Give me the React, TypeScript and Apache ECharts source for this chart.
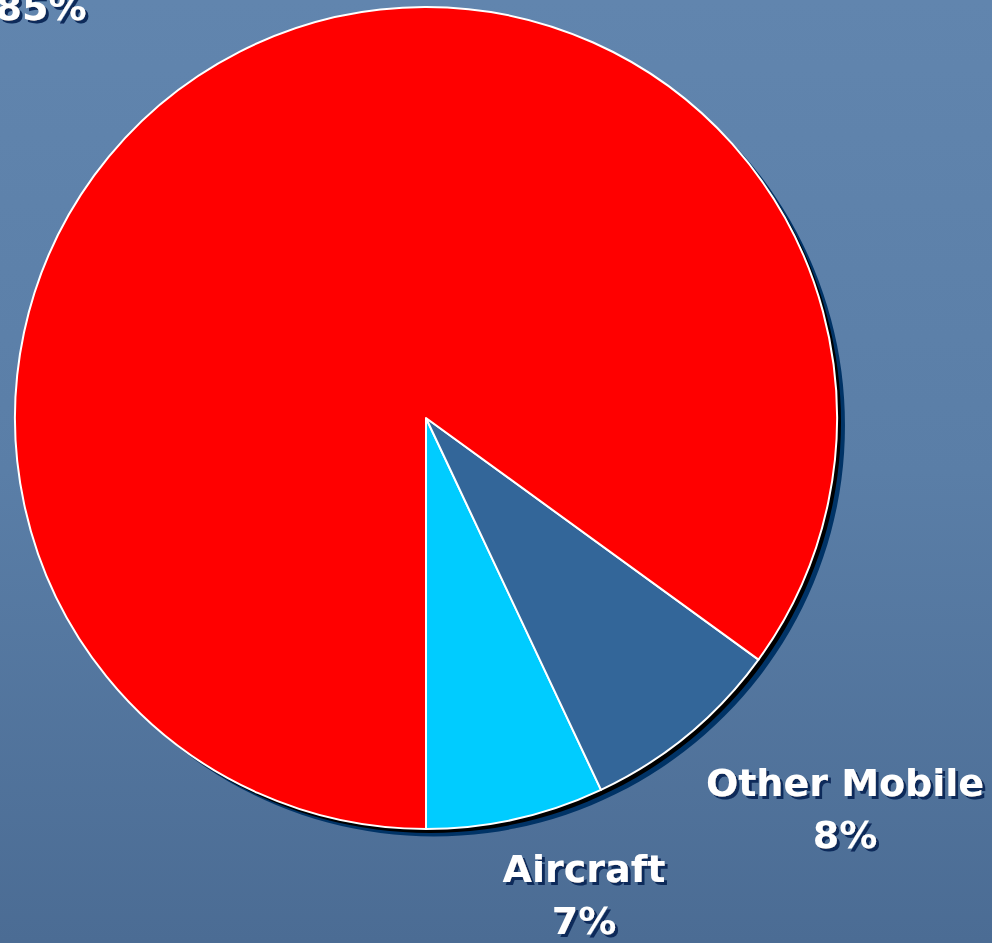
import React, { useEffect, useRef } from "react";
import * as echarts from "echarts";

const categories = ["Aircraft", "Other Mobile", ""];
const shares = [7, 8, 85];
const sliceColors = ["#00ccff", "#336699", "#ff0000"];

// label anchor positions (style only)
const labelSpots = [
  { x: 584, y: 895 },
  { x: 845, y: 809 },
  { x: 41, y: 7 },
];

export default function App() {
  const ref = useRef<HTMLDivElement>(null);
  useEffect(() => {
    if (!ref.current) return;
    const chart = echarts.init(ref.current, undefined, { renderer: "svg" });
    const R = 411;
    const cx = 426;
    const cy = 418;
    const total = shares.reduce((a, b) => a + b, 0);
    chart.setOption({
      animation: false,
      backgroundColor: {
        type: "linear",
        x: 0,
        y: 0,
        x2: 0,
        y2: 1,
        colorStops: [
          { offset: 0, color: "#6185ae" },
          { offset: 0.5, color: "#5a7ea7" },
          { offset: 1, color: "#4b6c94" },
        ],
      },
      series: [
        {
          type: "pie",
          silent: true,
          center: [cx + 8, cy + 7.5],
          radius: R,
          label: { show: false },
          labelLine: { show: false },
          itemStyle: { color: "#003366", borderWidth: 0 },
          data: [{ value: total, name: "shadow1" }],
        },
        {
          type: "pie",
          silent: true,
          center: [cx + 4, cy + 4],
          radius: R,
          label: { show: false },
          labelLine: { show: false },
          itemStyle: { color: "#000000", borderWidth: 0 },
          data: [{ value: total, name: "shadow2" }],
        },
        {
          type: "pie",
          center: [cx, cy],
          radius: R,
          startAngle: -90,
          clockwise: false,
          avoidLabelOverlap: false,
          itemStyle: { borderColor: "#ffffff", borderWidth: 2 },
          labelLine: { show: false },
          label: {
            show: true,
            position: "outside",
            fontFamily: "DejaVu Sans",
            fontWeight: "bold",
            fontSize: 38,
            lineHeight: 52,
            color: "#ffffff",
            align: "center",
            textShadowColor: "#0a2a5a",
            textShadowOffsetX: 3,
            textShadowOffsetY: 3,
            textShadowBlur: 1,
            formatter: (p: any) =>
              p.name ? `${p.name}\n${p.value}%` : `${p.value}%`,
          },
          labelLayout: (p: any) => {
            const s = labelSpots[p.dataIndex];
            return { x: s.x, y: s.y, align: "center", verticalAlign: "middle" };
          },
          data: categories.map((c, i) => ({
            name: c,
            value: shares[i],
            itemStyle: { color: sliceColors[i] },
          })),
        },
      ],
    });
    return () => chart.dispose();
  }, []);
  return (
    <div
      ref={ref}
      style={{ position: "fixed", left: 0, top: 0, width: 992, height: 943 }}
    />
  );
}
